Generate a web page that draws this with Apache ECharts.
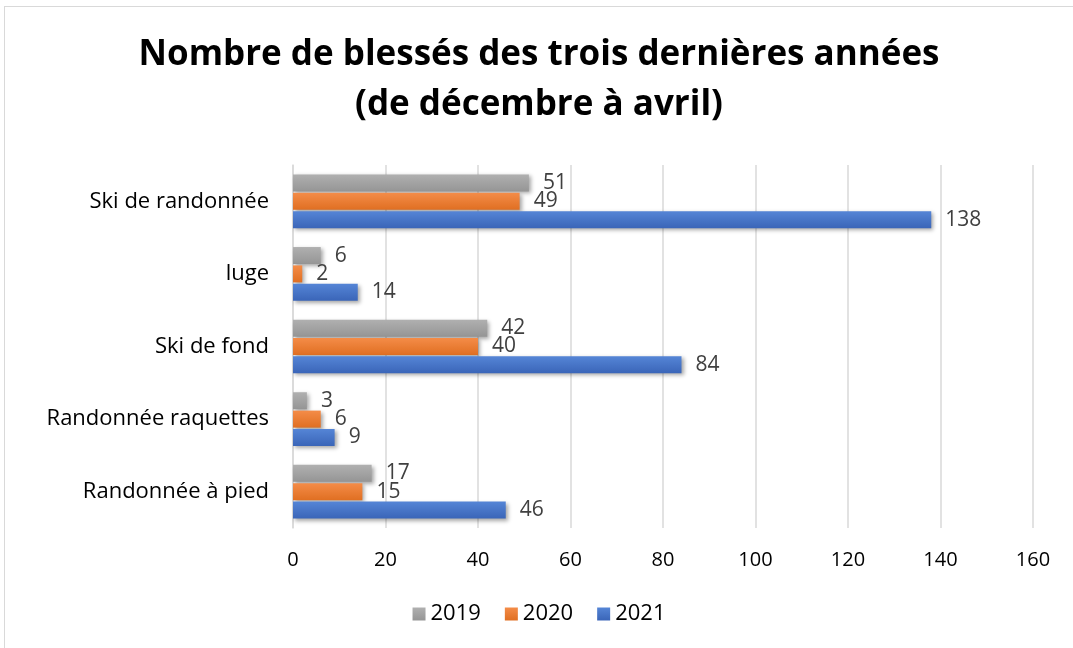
<!DOCTYPE html>
<html lang="fr">
<head>
    <meta charset="UTF-8">
    <title>Nombre de blessés</title>
    <script src="https://cdn.jsdelivr.net/npm/echarts@6/dist/echarts.min.js"></script>
    <style>
        html, body { margin: 0; padding: 0; background: #fff; }
        #chart { position: absolute; left: 4px; top: 6px; width: 1069px; height: 642px;
                 border: 1px solid #d9d9d9; border-right: none; border-bottom: none; box-sizing: border-box; }
    </style>
</head>
<body>
<div id="chart"></div>
<script>
    // données
    var categories = ['Randonnée à pied', 'Randonnée raquettes', 'Ski de fond', 'luge', 'Ski de randonnée'];
    var annees = ['2019', '2020', '2021'];
    var val2019 = [17, 3, 42, 6, 51];
    var val2020 = [15, 6, 40, 2, 49];
    var val2021 = [46, 9, 84, 14, 138];
    var xTicks = [0, 20, 40, 60, 80, 100, 120, 140, 160];

    var police = '"Open Sans", "Noto Sans", sans-serif';

    function grad(c1, c2) {
        return new echarts.graphic.LinearGradient(0, 0, 0, 1, [
            {offset: 0, color: c1}, {offset: 1, color: c2}
        ]);
    }

    function serie(nom, data, c1, c2) {
        return {
            name: nom,
            type: 'bar',
            data: data,
            barWidth: 17,
            barGap: '8%',
            itemStyle: {
                color: grad(c1, c2),
                shadowColor: 'rgba(0,0,0,0.35)',
                shadowBlur: 4,
                shadowOffsetX: 2,
                shadowOffsetY: 2
            },
            label: {
                show: true,
                position: 'right',
                distance: 14,
                color: '#404040',
                fontSize: 21,
                fontFamily: police
            }
        };
    }

    var myChart = echarts.init(document.getElementById('chart'));

    myChart.setOption({
        animation: false,
        title: {
            text: 'Nombre de blessés des trois dernières années\n(de décembre à avril)',
            left: 'center',
            top: 18,
            textStyle: {fontSize: 35, fontWeight: 'bold', color: '#000', fontFamily: police, lineHeight: 50}
        },
        legend: {
            data: annees,
            bottom: 18,
            left: 'center',
            itemWidth: 13,
            itemHeight: 13,
            itemGap: 24,
            icon: 'rect',
            textStyle: {fontSize: 22, color: '#000', fontFamily: police}
        },
        grid: {left: 288, right: 40, top: 158, bottom: 120},
        xAxis: {
            type: 'value',
            min: 0,
            max: xTicks[xTicks.length - 1],
            interval: 20,
            axisLine: {show: false},
            axisTick: {show: false},
            splitLine: {lineStyle: {color: '#d9d9d9', width: 1.5}},
            axisLabel: {fontSize: 20, color: '#000', fontFamily: police, margin: 22}
        },
        yAxis: {
            type: 'category',
            data: categories,
            axisLine: {lineStyle: {color: '#d9d9d9', width: 1.5}},
            axisTick: {show: false},
            axisLabel: {fontSize: 22, color: '#000', fontFamily: police, margin: 24}
        },
        series: [
            serie('2019', val2019, '#b0b0b0', '#959595'),
            serie('2020', val2020, '#f48c48', '#e06f22'),
            serie('2021', val2021, '#5585d6', '#3a65b8')
        ]
    });
</script>
</body>
</html>
